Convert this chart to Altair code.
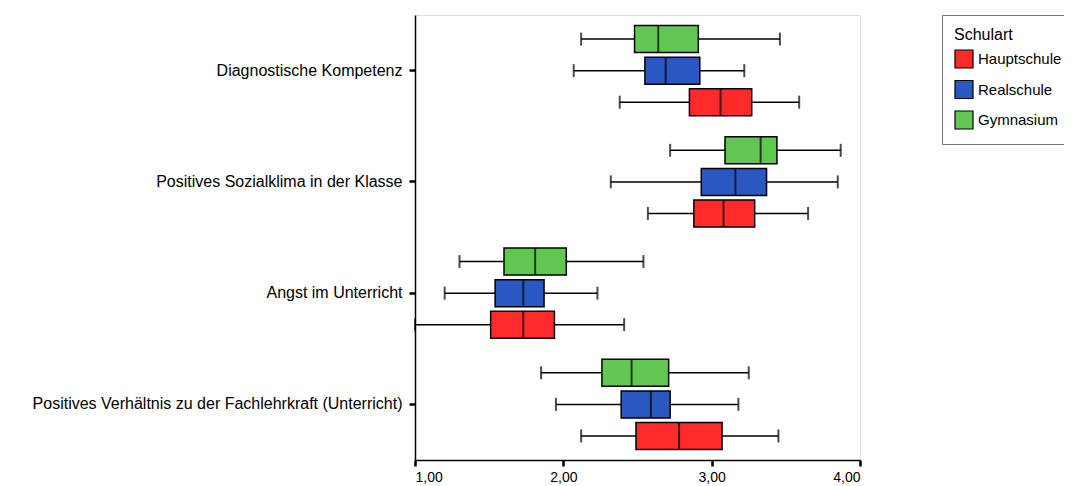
import altair as alt
import pandas as pd

categories = [
    "Diagnostische Kompetenz",
    "Positives Sozialklima in der Klasse",
    "Angst im Unterricht",
    "Positives Verhältnis zu der Fachlehrkraft (Unterricht)",
]
schularten = ["Hauptschule", "Realschule", "Gymnasium"]

# per category: [Hauptschule, Realschule, Gymnasium]
low = [[2.38, 2.07, 2.12], [2.57, 2.32, 2.72], [1.00, 1.20, 1.30], [2.12, 1.95, 1.85]]
q1 = [[2.85, 2.55, 2.48], [2.88, 2.93, 3.09], [1.51, 1.54, 1.60], [2.49, 2.39, 2.26]]
median = [[3.06, 2.69, 2.64], [3.08, 3.16, 3.33], [1.73, 1.73, 1.81], [2.78, 2.59, 2.46]]
q3 = [[3.27, 2.92, 2.91], [3.29, 3.37, 3.44], [1.94, 1.87, 2.02], [3.07, 2.72, 2.71]]
high = [[3.59, 3.22, 3.46], [3.65, 3.85, 3.87], [2.41, 2.23, 2.54], [3.45, 3.18, 3.25]]

rows = []
for i, c in enumerate(categories):
    for j, s in enumerate(schularten):
        rows.append(dict(cat=c, schulart=s, lo=low[i][j], q1=q1[i][j],
                         med=median[i][j], q3=q3[i][j], hi=high[i][j]))
df = pd.DataFrame(rows)

font = "Liberation Sans"
offset_order = ["Gymnasium", "Realschule", "Hauptschule"]

y_enc = alt.Y("cat:N", sort=categories, title=None,
              scale=alt.Scale(paddingInner=0.149, paddingOuter=0.0745),
              axis=alt.Axis(labelFontSize=16, labelFont=font, labelColor="black",
                            tickSize=6, tickWidth=2.5, tickColor="black",
                            domainColor="black", domainWidth=1.5,
                            labelPadding=7, labelLimit=600))
yoff = alt.YOffset("schulart:N", sort=offset_order,
                   scale=alt.Scale(paddingInner=0, paddingOuter=0))

xscale = alt.Scale(domain=[1, 4], nice=False, zero=False)
x_axis = alt.Axis(values=[1, 2, 3, 4], title=None,
                  labelExpr="replace(format(datum.value, '.2f'), '.', ',')",
                  labelFontSize=14, labelFont=font, labelColor="black",
                  tickSize=6, tickWidth=2.5, tickColor="black",
                  domainColor="black", domainWidth=1.5, grid=False,
                  labelPadding=4)

base = alt.Chart(df)

whisker = base.mark_rule(color="black", strokeWidth=1.5).encode(
    x=alt.X("lo:Q", scale=xscale, axis=x_axis), x2="hi:Q", y=y_enc, yOffset=yoff)
caps_lo = base.mark_tick(color="black", size=13, thickness=2).encode(
    x=alt.X("lo:Q", scale=xscale), y=y_enc, yOffset=yoff)
caps_hi = base.mark_tick(color="black", size=13, thickness=2).encode(
    x=alt.X("hi:Q", scale=xscale), y=y_enc, yOffset=yoff)
box = base.mark_bar(size=27, stroke="black", strokeWidth=1.5, opacity=1).encode(
    x=alt.X("q1:Q", scale=xscale), x2="q3:Q", y=y_enc, yOffset=yoff,
    color=alt.Color("schulart:N",
                    scale=alt.Scale(domain=schularten,
                                    range=["#FF2B2B", "#2A58C0", "#62C752"]),
                    legend=alt.Legend(title="Schulart", orient="none",
                                      legendX=527, legendY=0,
                                      symbolType="square", symbolSize=324,
                                      symbolStrokeColor="black", symbolStrokeWidth=1.2,
                                      symbolOpacity=1, labelOffset=4,
                                      titleFontSize=16, titleFont=font,
                                      titleFontWeight="normal", titleColor="black",
                                      labelFontSize=15, labelFont=font, labelColor="black",
                                      strokeColor="#777", padding=12,
                                      rowPadding=6.5, titlePadding=6)))
med_tick = base.mark_tick(color="black", size=27, thickness=2).encode(
    x=alt.X("med:Q", scale=xscale), y=y_enc, yOffset=yoff)

chart = alt.layer(whisker, caps_lo, caps_hi, box, med_tick).properties(
    width=445, height=445,
    autosize=alt.AutoSizeParams(type="none"),
    padding={"left": 407, "top": 7, "right": 204, "bottom": 26},
).configure_view(stroke="#666", strokeWidth=1.5).configure(background="white")

chart.save("out.html", embed_options={"renderer": "svg", "actions": False})
